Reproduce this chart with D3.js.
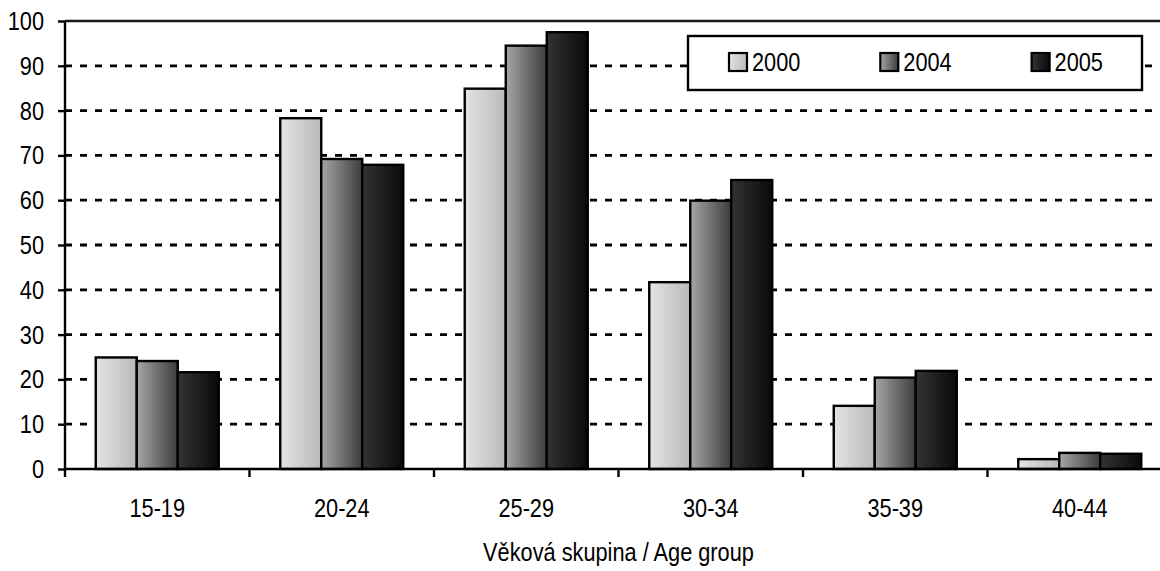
<!DOCTYPE html>
<html>
<head>
<meta charset="utf-8">
<script src="https://cdn.jsdelivr.net/npm/d3@7"></script>
<style>
  body { margin: 0; background: #fff; }
  svg { display: block; font-family: "Liberation Sans", Arial, sans-serif; }
</style>
</head>
<body>
<div id="vis"></div>
<script>
const FRAME_WIDTH = 1160;
const FRAME_HEIGHT = 571;
const MARGINS = {left: 65, right: -12, top: 21, bottom: 102};
const NARROW = 0.87;   // no narrow font installed, squeeze the text instead
const FONT = 25;

const categories = ["15-19", "20-24", "25-29", "30-34", "35-39", "40-44"];
const years = ["2000", "2004", "2005"];
const values2000 = [24.9, 78.3, 84.9, 41.7, 14.1, 2.2];
const values2004 = [24.1, 69.2, 94.5, 59.9, 20.4, 3.6];
const values2005 = [21.6, 67.9, 97.5, 64.5, 21.9, 3.4];
const yTicks = [0, 10, 20, 30, 40, 50, 60, 70, 80, 90, 100];

const series = [values2000, values2004, values2005];
const data = categories.map((c, i) => ({
  cat: c,
  vals: years.map((y, j) => ({year: y, value: series[j][i]}))
}));

const FRAME = d3.select("#vis")
  .append("svg")
    .attr("width", FRAME_WIDTH)
    .attr("height", FRAME_HEIGHT);

// gradients for the bars
const grads = {
  "2000": ["#e4e4e4", "#b9b9b9"],
  "2004": ["#a6a6a6", "#3c3c3c"],
  "2005": ["#333333", "#0a0a0a"]
};
const defs = FRAME.append("defs");
years.forEach(y => {
  const g = defs.append("linearGradient")
    .attr("id", "g" + y)
    .attr("x1", "0%").attr("x2", "100%").attr("y1", "0%").attr("y2", "0%");
  g.append("stop").attr("offset", "0%").attr("stop-color", grads[y][0]);
  g.append("stop").attr("offset", "100%").attr("stop-color", grads[y][1]);
});

// draws a squeezed label at x,y
function label(parent, x, y, txt, anchor) {
  return parent.append("text")
    .attr("transform", "translate(" + x + "," + y + ") scale(" + NARROW + ",1)")
    .attr("text-anchor", anchor || "middle")
    .attr("font-size", FONT)
    .attr("fill", "#000")
    .text(txt);
}

const xScale = d3.scaleBand()
  .domain(categories)
  .range([MARGINS.left, FRAME_WIDTH - MARGINS.right])
  .paddingInner(0).paddingOuter(0);

const innerScale = d3.scaleBand()
  .domain(years)
  .range([0, xScale.bandwidth()])
  .paddingOuter(0.75).paddingInner(0);

const yScale = d3.scaleLinear()
  .domain([0, 100])
  .range([FRAME_HEIGHT - MARGINS.bottom, MARGINS.top]);

// gridlines
FRAME.append("g")
  .selectAll("line")
  .data(yTicks.filter(t => t > 0 && t < 100))
  .enter()
  .append("line")
    .attr("x1", MARGINS.left)
    .attr("x2", FRAME_WIDTH)
    .attr("y1", d => yScale(d))
    .attr("y2", d => yScale(d))
    .attr("stroke", "#000")
    .attr("stroke-width", 2.8)
    .attr("stroke-dasharray", "7,8");

// top line
FRAME.append("line")
  .attr("x1", MARGINS.left).attr("x2", FRAME_WIDTH)
  .attr("y1", yScale(100)).attr("y2", yScale(100))
  .attr("stroke", "#1a1a1a")
  .attr("stroke-width", 2.4);

// bars
const groups = FRAME.append("g")
  .selectAll("g")
  .data(data)
  .enter()
  .append("g")
    .attr("transform", d => "translate(" + xScale(d.cat) + ",0)");

groups.selectAll("rect")
  .data(d => d.vals)
  .enter()
  .append("rect")
    .attr("x", d => innerScale(d.year))
    .attr("y", d => yScale(d.value))
    .attr("width", innerScale.bandwidth())
    .attr("height", d => yScale(0) - yScale(d.value))
    .attr("fill", d => "url(#g" + d.year + ")")
    .attr("stroke", "#000")
    .attr("stroke-width", 2.4);

// y axis
const yAxis = FRAME.append("g")
  .attr("transform", "translate(" + MARGINS.left + ",0)")
  .call(d3.axisLeft(yScale).tickValues(yTicks).tickSize(7).tickFormat(""));
yAxis.select(".domain").attr("stroke-width", 2.4).attr("d", "M0," + yScale(0) + "V" + yScale(100));
yAxis.selectAll(".tick line").attr("stroke-width", 2.4);
yTicks.forEach(t => label(FRAME, 44, yScale(t) + 9, t, "end"));

// x axis
const xAxis = FRAME.append("g")
  .attr("transform", "translate(0," + yScale(0) + ")");
xAxis.append("line")
  .attr("x1", MARGINS.left).attr("x2", FRAME_WIDTH)
  .attr("stroke", "#000").attr("stroke-width", 2.4);
xAxis.selectAll(".xtick")
  .data(categories.concat(["end"]))
  .enter()
  .append("line")
    .attr("x1", (d, i) => MARGINS.left + i * xScale.bandwidth())
    .attr("x2", (d, i) => MARGINS.left + i * xScale.bandwidth())
    .attr("y1", 0).attr("y2", 8)
    .attr("stroke", "#000").attr("stroke-width", 2.4);
categories.forEach(c => label(xAxis, xScale(c) + xScale.bandwidth() / 2, 48, c));

// axis title
label(FRAME, (MARGINS.left + FRAME_WIDTH - MARGINS.right) / 2, 561, "Věková skupina / Age group");

// legend
const legend = FRAME.append("g").attr("transform", "translate(688,36)");
legend.append("rect")
  .attr("width", 454).attr("height", 54)
  .attr("fill", "#fff").attr("stroke", "#000").attr("stroke-width", 2.4);
const items = legend.selectAll(".item")
  .data(years)
  .enter()
  .append("g")
    .attr("transform", (d, i) => "translate(" + (41 + i * 151.3) + ",17)");
items.append("rect")
  .attr("width", 18).attr("height", 18)
  .attr("fill", d => "url(#g" + d + ")")
  .attr("stroke", "#000").attr("stroke-width", 2.2);
items.each(function(d) { label(d3.select(this), 23, 18, d, "start"); });
</script>
</body>
</html>
